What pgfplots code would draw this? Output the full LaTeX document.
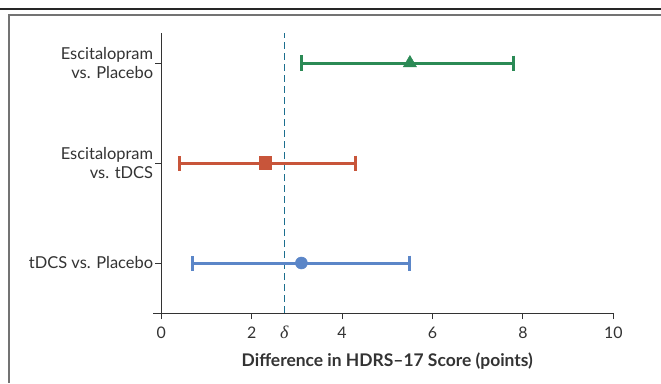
\documentclass[border=0pt]{standalone}
\usepackage{fontspec}
\setmainfont{Lato}
\newfontfamily\greekserif{Liberation Serif}
\usepackage{pgfplots}
\pgfplotsset{compat=1.18}
\definecolor{cgreen}{HTML}{2B8A55}
\definecolor{cred}{HTML}{C8553A}
\definecolor{cblue}{HTML}{5B86C8}
\definecolor{cteal}{HTML}{1C6E8E}
\definecolor{ctext}{HTML}{333333}
\begin{document}
\begin{tikzpicture}[x=1bp,y=1bp]
\useasboundingbox (0,0) rectangle (661,383);
\fill[white] (0,0) rectangle (661,383);
\draw[line width=1.6bp,black!85] (0,374) -- (661,374);
\draw[line width=1.6bp,black!55] (8,368) -- (661,368);
\draw[line width=1.6bp,black!55] (8.8,368.8) -- (8.8,0);
\begin{axis}[
  at={(161.3bp,70bp)}, anchor=south west,
  scale only axis, width=452bp, height=280bp,
  xmin=0, xmax=10, ymin=0.5, ymax=3.3,
  clip=false,
  axis x line=bottom, axis y line=left,
  axis line style={-, line width=0.9bp, ctext},
  tick style={line width=0.9bp, ctext},
  tick align=outside,
  major tick length=6bp,
  xtick={0,2,4,6,8,10},
  extra x ticks={2.72},
  extra x tick labels={{\greekserif\itshape\fontsize{18}{18}\selectfont δ}},
  extra x tick style={major tick length=0pt, xticklabel style={yshift=-6bp}},
  ytick={1,2,3},
  yticklabels={tDCS vs. Placebo, {Escitalopram\\vs. tDCS}, {Escitalopram\\vs. Placebo}},
  yticklabel style={align=right, font=\fontsize{16.5}{19}\selectfont, text=ctext, inner sep=2bp},
  xticklabel style={font=\fontsize{16}{18}\selectfont, text=ctext, text height=13bp, text depth=0bp, yshift=-3bp},
  /pgf/number format/assume math mode=true,
  xlabel={\bfseries Difference in HDRS–17 Score (points)},
  xlabel style={font=\fontsize{17.5}{19}\selectfont, text=ctext, yshift=-1bp},
]
\draw[line width=0.9bp, ctext] (axis cs:-0.18,0.5) -- (axis cs:0,0.5);
\draw[line width=0.9bp, ctext] (axis cs:0,0.47) -- (axis cs:0,0.5);
\draw[cteal, line width=1.1bp, dash pattern=on 7bp off 4bp] (axis cs:2.72,0.5) -- (axis cs:2.72,3.3);
\addplot[cgreen, line width=3bp, mark=triangle*, mark size=7.5bp, mark options={solid, line width=0.5bp},
  error bars/.cd, x dir=both, x explicit, error mark=|, error bar style={line width=3bp}, error mark options={mark size=7.5bp, line width=3bp}]
  coordinates {(5.5,3) += (2.3,0) -= (2.4,0)};
\addplot[cred, line width=3bp, mark=square*, mark size=6.3bp, mark options={solid, line width=0.5bp},
  error bars/.cd, x dir=both, x explicit, error mark=|, error bar style={line width=3bp}, error mark options={mark size=7.5bp, line width=3bp}]
  coordinates {(2.3,2) += (2.0,0) -= (1.9,0)};
\addplot[cblue, line width=3bp, mark=*, mark size=6bp, mark options={solid, line width=0.5bp},
  error bars/.cd, x dir=both, x explicit, error mark=|, error bar style={line width=3bp}, error mark options={mark size=7.5bp, line width=3bp}]
  coordinates {(3.1,1) += (2.4,0) -= (2.4,0)};
\end{axis}
\end{tikzpicture}
\end{document}
